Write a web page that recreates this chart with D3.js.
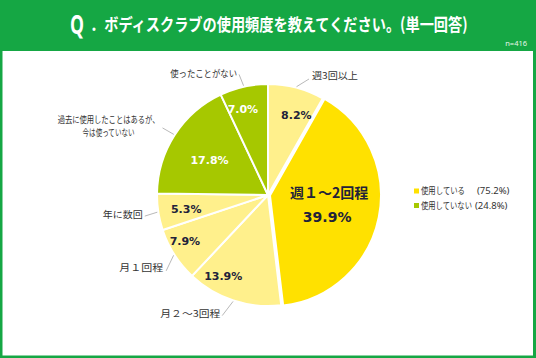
<!DOCTYPE html>
<html><head><meta charset="utf-8">
<script src="https://cdn.jsdelivr.net/npm/d3@7"></script>
<style>
html,body{margin:0;padding:0;background:#fff;}
svg{display:block;}
</style></head>
<body>
<svg id="c" width="536" height="358"></svg>
<script>
// ---- data ----
const categories = ["週3回以上","週１～2回程","月２～3回程","月１回程","年に数回","過去に使用したことはあるが、\n今は使っていない","使ったことがない"];
const values = [8.2, 39.9, 13.9, 7.9, 5.3, 17.8, 7.0];
const groups = ["use","use","use","use","use","nouse","nouse"];
const legendLabels = ["使用している","使用していない"];
const legendValues = [75.2, 24.8];
const titleQ = "Q";
const titleText = "．ボディスクラブの使用頻度を教えてください。(単一回答)";
const nText = "n=416";

// ---- layout / style ----
const W = 536, H = 358;
const green = "#15A744";
const cx = 268, cy = 195, R = 111;
const sliceColors = ["#FFF08C","#FFE100","#FFF08C","#FFF08C","#FFF08C","#A6C800","#A6C800"];
const inner = [[4.7,85],[-1.8,61],[10.6,93],[3.6,95],[-0.9,83],[-2.1,68],[-3.6,90]];
const innerFill = ["#22223a","#22223a","#22223a","#22223a","#22223a","#ffffff","#ffffff"];
// [angleOffset, radius, anchor, dx, dy] for leader end
const outer = [[4.7,123,"start",3,-3],null,[2.6,129,"end",-2,-2],[-4.1,127,"end",-3,-3],[-0.9,125,"end",-2,-2],[-0.3,125,"middle",-54,-4],[-0.9,124,"end",-2,-1]];
const outerWidths = [46,null,60,44,40,[102,52],67];
const legendWidths = [44,51];

// place a text at (x,y) squeezed horizontally to a target width
function fit(sel, x, y, target) {
  const n = sel.node();
  const nat = n.getComputedTextLength();
  const s = target && nat > 0 ? target / nat : 1;
  sel.attr("x", 0).attr("y", 0).attr("transform", `translate(${x},${y}) scale(${s},1)`);
  return sel;
}

const svg = d3.select("#c");
svg.append("rect").attr("x",0).attr("y",0).attr("width",W).attr("height",H).attr("fill",green);
svg.append("rect").attr("x",2.5).attr("y",51).attr("width",W-5.5).attr("height",H-53.5).attr("fill","#fff");

const jp = "'Noto Sans CJK JP','Noto Sans',sans-serif";
fit(svg.append("text").attr("fill","#fff")
  .attr("font-family","'Open Sans','Noto Sans',sans-serif").attr("font-weight",700).attr("font-size",26)
  .text(titleQ), 70, 34, 14);
fit(svg.append("text").attr("fill","#fff")
  .attr("font-family",jp).attr("font-weight",700).attr("font-size",17.5)
  .text(titleText), 90, 30.5, 378);
svg.append("text").attr("x",527).attr("y",46).attr("fill","#e6f5ea").attr("text-anchor","end")
  .attr("font-family","'Noto Sans',sans-serif").attr("font-size",7.5).text(nText);

const pie = d3.pie().sort(null).value(d=>d).startAngle(0).endAngle(2*Math.PI);
const arcs = pie(values);
const arc = d3.arc().innerRadius(0).outerRadius(R);
const rad = d => d*Math.PI/180;
const polar = (a, r) => [cx + r*Math.sin(a), cy - r*Math.cos(a)];

const g = svg.append("g");
g.selectAll("path").data(arcs).join("path")
  .attr("d", arc)
  .attr("transform", (d,i) => {
    const m = (d.startAngle+d.endAngle)/2;
    const off = i===1 ? 2 : 0;
    return `translate(${cx+off*Math.sin(m)},${cy-off*Math.cos(m)})`;
  })
  .attr("fill", (d,i) => sliceColors[i])
  .attr("stroke", "#fff").attr("stroke-width", 2).attr("stroke-linejoin","round");

// inner labels
arcs.forEach((d,i) => {
  const m = (d.startAngle+d.endAngle)/2 + rad(inner[i][0]);
  const [x,y] = polar(m, inner[i][1]);
  const pct = values[i].toFixed(1) + "%";
  if (i===1) {
    g.append("text").attr("x",x+1).attr("y",y-12).attr("dy","0.36em").attr("text-anchor","middle")
      .attr("font-family",jp).attr("font-weight",700).attr("font-size",14).attr("fill",innerFill[i])
      .text(categories[i]);
    g.append("text").attr("x",x-1).attr("y",y+12).attr("dy","0.36em").attr("text-anchor","middle")
      .attr("font-family","'DejaVu Sans',sans-serif").attr("font-weight",700).attr("font-size",14).attr("fill",innerFill[i])
      .text(pct);
  } else {
    g.append("text").attr("x",x).attr("y",y).attr("dy","0.36em").attr("text-anchor","middle")
      .attr("font-family","'DejaVu Sans',sans-serif").attr("font-weight",700).attr("font-size",11).attr("fill",innerFill[i])
      .text(pct);
  }
});

// outer labels with leader lines
arcs.forEach((d,i) => {
  const o = outer[i]; if (!o) return;
  const mid = (d.startAngle+d.endAngle)/2;
  const [x0,y0] = polar(mid, R+1);
  const [x1,y1] = polar(mid + rad(o[0]), o[1]);
  g.append("line").attr("x1",x0).attr("y1",y0).attr("x2",x1).attr("y2",y1)
    .attr("stroke","#a6a6a6").attr("stroke-width",0.8);
  const lines = categories[i].split("\n");
  const widths = [].concat(outerWidths[i]);
  lines.forEach((s,k) => {
    const t = g.append("text").attr("text-anchor",o[2])
      .attr("font-family",jp).attr("font-size",9.5).attr("fill","#333")
      .attr("dy","0.36em").text(s);
    fit(t, x1+o[3], y1+o[4] + (k - (lines.length-1)) * 13 + (lines.length>1? 9:0), widths[k]);
  });
});

// legend
const legColors = ["#FFE100","#A6C800"];
legendLabels.forEach((l,i) => {
  const y = 191 + i*14.5;
  svg.append("rect").attr("x",414).attr("y",y-2.5).attr("width",5).attr("height",5).attr("fill",legColors[i]);
  fit(svg.append("text").attr("dy","0.36em").attr("font-family",jp).attr("font-size",9.5).attr("fill","#333").text(l),
      421, y, legendWidths[i]);
  svg.append("text").attr("x", i===0 ? 477 : 475).attr("y",y).attr("dy","0.36em").attr("font-family","'Noto Sans',sans-serif").attr("font-size",9.5).attr("fill","#333")
    .text("(" + legendValues[i].toFixed(1) + "%)");
});
</script>
</body></html>
